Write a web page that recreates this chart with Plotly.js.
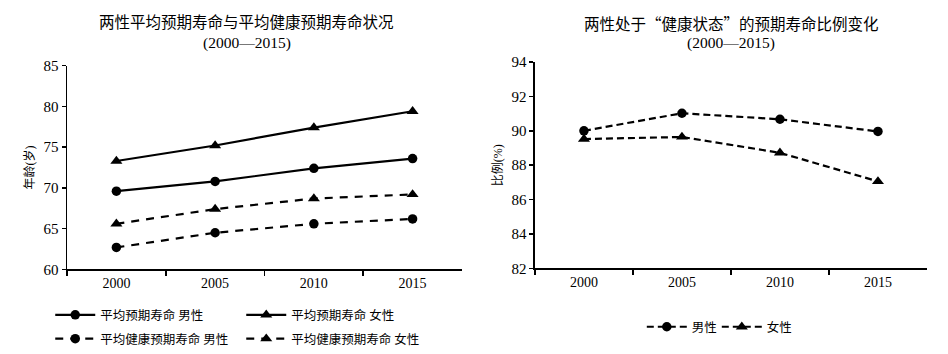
<!DOCTYPE html>
<html><head><meta charset="utf-8">
<script src="https://cdn.plot.ly/plotly-3.0.1.min.js"></script>
<style>body{margin:0;background:#fff}#c{width:948px;height:354px}</style>
</head><body><div id="c"></div>
<script>
const years = ['2000','2005','2010','2015'];
const lifeMale = [69.6, 70.8, 72.4, 73.6];
const lifeFemale = [73.3, 75.2, 77.4, 79.4];
const healthyMale = [62.7, 64.5, 65.6, 66.2];
const healthyFemale = [65.6, 67.4, 68.7, 69.2];
const ratioMale = [90.0, 91.02, 90.67, 89.96];
const ratioFemale = [89.52, 89.64, 88.72, 87.06];

const leftTitle = ['两性平均预期寿命与平均健康预期寿命状况', '(2000—2015)'];
const rightTitle = ['两性处于“健康状态”的预期寿命比例变化', '(2000—2015)'];
const names = ['平均预期寿命 男性','平均预期寿命 女性','平均健康预期寿命 男性','平均健康预期寿命 女性','男性','女性'];

const CJK = '"Liberation Serif", "Noto Sans CJK SC", serif';
const CJKONLY = '"Noto Sans CJK SC", "Liberation Serif", serif';
const black = '#000';

function tr(y, name, dash, sym, xa, ya, leg){
  return {x: years, y: y, name: name, type:'scatter', mode:'lines+markers',
    xaxis: xa, yaxis: ya, legend: leg,
    line:{color:black, width:2.2, dash: dash},
    marker:{color:black, symbol: sym, size: sym==='circle'?9.5:10.5}};
}
const data = [
  tr(lifeMale, names[0], 'solid', 'circle', 'x', 'y', 'legend'),
  tr(lifeFemale, names[1], 'solid', 'triangle-up', 'x', 'y', 'legend'),
  tr(healthyMale, names[2], '8px,7px', 'circle', 'x', 'y', 'legend2'),
  tr(healthyFemale, names[3], '8px,7px', 'triangle-up', 'x', 'y', 'legend2'),
  tr(ratioMale, names[4], '7px,4px', 'circle', 'x2', 'y2', 'legend3'),
  tr(ratioFemale, names[5], '7px,4px', 'triangle-up', 'x2', 'y2', 'legend3')
];

const xax = (dom)=>({domain: dom, type:'category', range:[-0.5,3.5], tickson:'boundaries',
  ticks:'outside', ticklen:5, tickcolor:black, tickwidth:1.5, showline:true, linecolor:black, linewidth:1.5,
  showgrid:false, zeroline:false, tickfont:{family:CJK, size:14, color:black}, fixedrange:true});
const yax = (dom, rng, dt, title)=>({domain: dom, range: rng, dtick: dt, ticks:'outside', ticklen:4,
  tickcolor:black, tickwidth:1.5, showline:true, linecolor:black, linewidth:1.5, showgrid:false, zeroline:false,
  tickfont:{family:CJK, size:15, color:black},
  title:{text:title, font:{family:CJK, size:12, color:black}, standoff:6}, fixedrange:true});

const legBase = {orientation:'h', xanchor:'left', yanchor:'middle', itemwidth:40,
  font:{family:CJK, size:12.5, color:black}, bgcolor:'rgba(0,0,0,0)', entrywidth:136, entrywidthmode:'pixels',
  tracegroupgap:0, itemclick:false, itemdoubleclick:false};

function ann(t, x, y, fam){
  return {text:t, x:x/948, y:1-y/354, xref:'paper', yref:'paper', xanchor:'center', yanchor:'middle',
    showarrow:false, font:{family:fam, size:15.5, color:black}};
}

const layout = {
  width:948, height:354, margin:{l:0,r:0,t:0,b:0}, paper_bgcolor:'#fff', plot_bgcolor:'#fff',
  xaxis: xax([0.0707,0.4873]),
  yaxis: yax([0.2345,0.8136],[60,85],5,'年龄(岁)'),
  xaxis2: Object.assign(xax([0.5643,0.9778]), {anchor:'y2'}),
  yaxis2: Object.assign(yax([0.2373,0.824],[82,94],2,'比例(%)'), {anchor:'x2'}),
  legend: Object.assign({}, legBase, {x:0.053, y:1-317/354}),
  legend2: Object.assign({}, legBase, {x:0.053, y:1-341/354}),
  legend3: Object.assign({}, legBase, {x:0.677, y:1-329/354, entrywidth:20}),
  showlegend:true,
  annotations:[
    ann(leftTitle[0], 247, 23, CJK), ann(leftTitle[1], 247, 43, CJK),
    ann(rightTitle[0], 731, 23, CJKONLY), ann(rightTitle[1], 731, 43, CJK)
  ]
};
Plotly.newPlot('c', data, layout, {displayModeBar:false, staticPlot:true});
</script></body></html>
